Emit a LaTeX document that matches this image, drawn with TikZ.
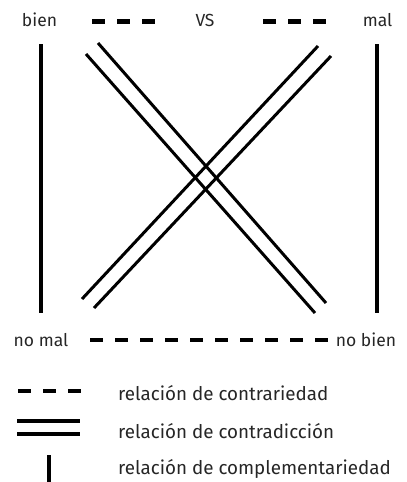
\documentclass[tikz,border=0pt]{standalone}
\usepackage{fontspec}
\setmainfont{Fira Sans}
\begin{document}
\begin{tikzpicture}[x=1pt,y=-1pt,
  lbl/.style={inner sep=0pt, font=\fontsize{17.5}{17.5}\selectfont, text=black!85},
  leg/.style={lbl, anchor=west, font=\fontsize{18.8}{18.8}\selectfont},
  dashln/.style={line width=4.8pt, dash pattern=on 13pt off 12pt},
  solidln/.style={line width=3.5pt},
  diag/.style={line width=3pt}]
\useasboundingbox (0,0) rectangle (407,482);
% labels
\node[lbl] (bien) at (39.5,20) {bien};
\node[lbl] (vs) at (205,20) {VS};
\node[lbl] (mal) at (377.5,20) {mal};
\node[lbl] (nomal) at (41,340) {no mal};
\node[lbl] (nobien) at (366,340) {no bien};
% dashed relations
\coordinate (d1a) at (92,21.5); \coordinate (d1b) at (156,21.5);
\coordinate (d2a) at (263,21.5); \coordinate (d2b) at (327,21.5);
\coordinate (d3a) at (90,340); \coordinate (d3b) at (329,340);
\draw[dashln] (d1a) -- (d1b);
\draw[dashln] (d2a) -- (d2b);
\draw[dashln] (d3a) -- (d3b);
% vertical
\coordinate (v1a) at (41,44); \coordinate (v1b) at (41,313);
\coordinate (v2a) at (377,44); \coordinate (v2b) at (377,313);
\draw[solidln] (v1a) -- (v1b);
\draw[solidln] (v2a) -- (v2b);
% diagonals
\coordinate (a1) at (98,43); \coordinate (a2) at (326,303);
\coordinate (b1) at (86,54); \coordinate (b2) at (315,313);
\coordinate (c1) at (318,46); \coordinate (c2) at (82,299);
\coordinate (e1) at (331,56); \coordinate (e2) at (94,308);
\draw[diag] (a1) -- (a2);
\draw[diag] (b1) -- (b2);
\draw[diag] (c1) -- (c2);
\draw[diag] (e1) -- (e2);
% legend
\coordinate (l1a) at (18,391); \coordinate (l1b) at (82,391);
\draw[dashln, line width=4pt] (l1a) -- (l1b);
\coordinate (l2a) at (17,421); \coordinate (l2b) at (80,421);
\coordinate (l3a) at (17,434); \coordinate (l3b) at (80,434);
\draw[solidln] (l2a) -- (l2b);
\draw[solidln] (l3a) -- (l3b);
\coordinate (l4a) at (49,455); \coordinate (l4b) at (49,482);
\draw[solidln, line width=4pt] (l4a) -- (l4b);
\node[leg] (t1) at (118,393) {relación de contrariedad};
\node[leg] (t2) at (118,431) {relación de contradicción};
\node[leg] (t3) at (118,469) {relación de complementariedad};
\end{tikzpicture}
\end{document}
